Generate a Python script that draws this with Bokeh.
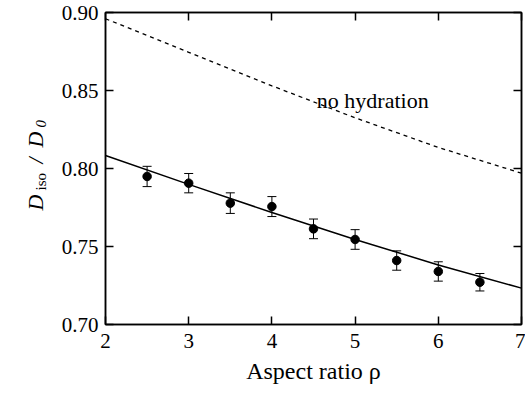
import numpy as np
from bokeh.plotting import figure
from bokeh.layouts import row
from bokeh.models import (ColumnDataSource, Whisker, TeeHead, LinearAxis, Label,
                          FixedTicker, PrintfTickFormatter, Range1d)
from bokeh.core.properties import value
from bokeh.embed import file_html
from bokeh.resources import INLINE

# ---- data ----
rho = [2.5, 3.0, 3.5, 4.0, 4.5, 5.0, 5.5, 6.0, 6.5]
d_meas = [0.7949, 0.7906, 0.7778, 0.7756, 0.7613, 0.7545, 0.7410, 0.7340, 0.7271]
d_err = [0.0065, 0.0062, 0.0066, 0.0064, 0.0063, 0.0063, 0.0062, 0.0062, 0.0056]

fit_rho = [2, 3, 4, 5, 6, 7]
fit_hydration = [0.8083, 0.7898, 0.7718, 0.7545, 0.7382, 0.7233]
fit_no_hydration = [0.896, 0.8745, 0.853, 0.8325, 0.8135, 0.797]

x_ticks = [2, 3, 4, 5, 6, 7]
y_ticks = [0.70, 0.75, 0.80, 0.85, 0.90]

# y-axis title pieces: D_iso / D_0
ylab_text = ["D", "iso", "/", "D", "0"]
ylab_size = ["22px", "15px", "22px", "22px", "15px"]
ylab_style = ["italic", "normal", "italic", "italic", "italic"]

FONT = "Liberation Serif"
LAB_W = 58
TOP = 8

# ---- main plot ----
p = figure(width=525 - LAB_W, height=393, output_backend="svg", toolbar_location=None,
           x_range=Range1d(2, 7), y_range=Range1d(0.70, 0.90),
           min_border_left=104 - LAB_W, min_border_right=4, min_border_top=TOP,
           min_border_bottom=69)
p.background_fill_color = "white"
p.border_fill_color = "white"
p.outline_line_color = "black"
p.outline_line_width = 1.5
p.xgrid.visible = False
p.ygrid.visible = False

p.line(fit_rho, fit_no_hydration, line_color="black", line_width=1.3, line_dash="4 4")
p.line(fit_rho, fit_hydration, line_color="black", line_width=1.5)

src = ColumnDataSource(dict(
    x=rho, y=d_meas,
    upper=[v + e for v, e in zip(d_meas, d_err)],
    lower=[v - e for v, e in zip(d_meas, d_err)],
))
w = Whisker(base="x", upper="upper", lower="lower", source=src,
            line_color="black", line_width=1,
            upper_head=TeeHead(size=9, line_color="black", line_width=1),
            lower_head=TeeHead(size=9, line_color="black", line_width=1))
p.add_layout(w)
p.scatter("x", "y", source=src, size=8.5, fill_color="black", line_color="black")

p.xaxis.ticker = FixedTicker(ticks=x_ticks)
p.yaxis.ticker = FixedTicker(ticks=y_ticks)
for ax in (p.xaxis[0], p.yaxis[0]):
    ax.axis_line_color = "black"
    ax.axis_line_width = 1.5
    ax.major_tick_in = 8
    ax.major_tick_out = 0
    ax.major_tick_line_width = 1.5
    ax.minor_tick_line_color = None
    ax.major_label_text_font = FONT
    ax.major_label_text_color = "black"
    ax.major_label_text_font_size = "21px"
    ax.major_label_standoff = 9
p.yaxis[0].major_label_standoff = 7

p.yaxis[0].formatter = PrintfTickFormatter(format="%.2f")
p.xaxis[0].axis_label = "Aspect ratio \u03c1"
p.xaxis[0].axis_label_text_font = FONT
p.xaxis[0].axis_label_text_font_style = "normal"
p.xaxis[0].axis_label_text_font_size = "24px"
p.xaxis[0].axis_label_text_color = "black"
p.xaxis[0].axis_label_standoff = 7

top = LinearAxis(ticker=FixedTicker(ticks=x_ticks))
right = LinearAxis(ticker=FixedTicker(ticks=y_ticks))
for ax in (top, right):
    ax.axis_line_color = "black"
    ax.axis_line_width = 1.5
    ax.major_tick_in = 8
    ax.major_tick_out = 0
    ax.major_tick_line_width = 1.5
    ax.minor_tick_line_color = None
    ax.major_label_text_font_size = "1px"
    ax.major_label_text_color = None
    ax.major_label_standoff = 0
p.add_layout(top, "above")
p.add_layout(right, "right")

p.add_layout(Label(x=4.54, y=0.8436, text="no hydration", text_font=FONT,
                   text_font_size="22px", text_color="black",
                   text_baseline="alphabetic", text_align="left"))

# ---- narrow strip holding the rotated y-axis title ----
lab = figure(width=LAB_W, height=393, output_backend="svg", toolbar_location=None,
             x_range=Range1d(0, LAB_W), y_range=Range1d(0.70, 0.90),
             min_border_left=0, min_border_right=0, min_border_top=TOP + 4,
             min_border_bottom=69)
lab.axis.visible = False
lab.grid.visible = False
lab.outline_line_color = None
lab.background_fill_color = "white"
lab.border_fill_color = "white"
lsrc = ColumnDataSource(dict(
    text=ylab_text,
    x=[35, 40, 35, 35, 40],
    y=[0.7731, 0.7859, 0.8032, 0.8135, 0.8263],
    size=ylab_size,
    style=ylab_style,
))
lab.text(x="x", y="y", text="text", source=lsrc, angle=np.pi / 2,
         text_font=value(FONT), text_font_size="size", text_font_style="style",
         text_color="black", text_align="left", text_baseline="alphabetic")

layout = row(lab, p)
open("out.html", "w").write(file_html(layout, INLINE))
